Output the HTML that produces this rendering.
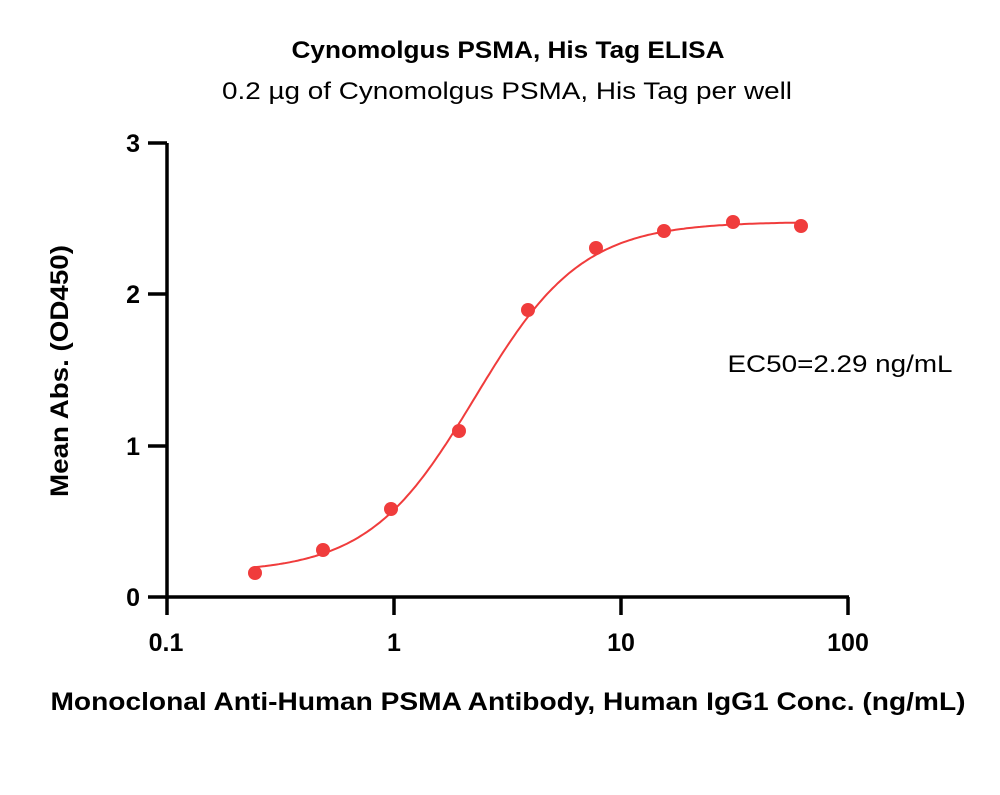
<!DOCTYPE html>
<html><head><meta charset="utf-8"><style>
body{margin:0;background:#fff}
svg text{font-family:"Liberation Sans",sans-serif}
</style></head><body>
<svg width="1000" height="790" viewBox="0 0 1000 790" xmlns="http://www.w3.org/2000/svg">
<text x="508" y="58" text-anchor="middle" font-size="24" font-weight="bold" textLength="433" lengthAdjust="spacingAndGlyphs">Cynomolgus PSMA, His Tag ELISA</text>
<text x="507" y="99" text-anchor="middle" font-size="24" textLength="570" lengthAdjust="spacingAndGlyphs">0.2 µg of Cynomolgus PSMA, His Tag per well</text>
<g stroke="#000" stroke-width="3.5" fill="none">
<line x1="167" y1="143" x2="167" y2="599"/>
<line x1="148" y1="597" x2="849" y2="597"/>
<line x1="148" y1="143" x2="167" y2="143"/>
<line x1="148" y1="294" x2="167" y2="294"/>
<line x1="148" y1="446" x2="167" y2="446"/>
<line x1="167" y1="597" x2="167" y2="615"/>
<line x1="394" y1="597" x2="394" y2="615"/>
<line x1="621" y1="597" x2="621" y2="615"/>
<line x1="848" y1="597" x2="848" y2="615"/>
</g>
<g font-size="25" font-weight="bold" text-anchor="end">
<text x="140" y="152">3</text><text x="140" y="303">2</text><text x="140" y="455">1</text><text x="140" y="606">0</text>
</g>
<g font-size="25" font-weight="bold" text-anchor="middle">
<text x="166" y="651">0.1</text><text x="394" y="651">1</text><text x="621" y="651">10</text><text x="848" y="651">100</text>
</g>
<text x="508" y="710" text-anchor="middle" font-size="25" font-weight="bold" textLength="915" lengthAdjust="spacingAndGlyphs">Monoclonal Anti-Human PSMA Antibody, Human IgG1 Conc. (ng/mL)</text>
<text transform="translate(68,371) rotate(-90)" text-anchor="middle" font-size="25" font-weight="bold" textLength="252" lengthAdjust="spacingAndGlyphs">Mean Abs. (OD450)</text>
<text x="840" y="372" text-anchor="middle" font-size="24" textLength="225" lengthAdjust="spacingAndGlyphs">EC50=2.29 ng/mL</text>
<path id="c" fill="none" stroke="#f03c3c" stroke-width="2"/>
<g fill="#f03c3c">
<circle cx="255" cy="573" r="7"/><circle cx="323" cy="550" r="7"/><circle cx="391" cy="509" r="7"/>
<circle cx="459" cy="431" r="7"/><circle cx="528" cy="310" r="7"/><circle cx="596" cy="248" r="7"/>
<circle cx="664" cy="231" r="7"/><circle cx="733" cy="222" r="7"/><circle cx="801" cy="226" r="7"/>
</g>
</svg>
<script>
var d="";for(var i=0;i<=200;i++){var lx=Math.log10(0.244)+i/200*(Math.log10(62.5)-Math.log10(0.244));var x=Math.pow(10,lx);
var v=0.16+(2.48-0.16)/(1+Math.pow(2.29/x,1.85));var px=166+227.3*(lx+1),py=597-151.3*v;d+=(i?"L":"M")+px.toFixed(1)+","+py.toFixed(1);}
document.getElementById("c").setAttribute("d",d);
</script>
</body></html>
